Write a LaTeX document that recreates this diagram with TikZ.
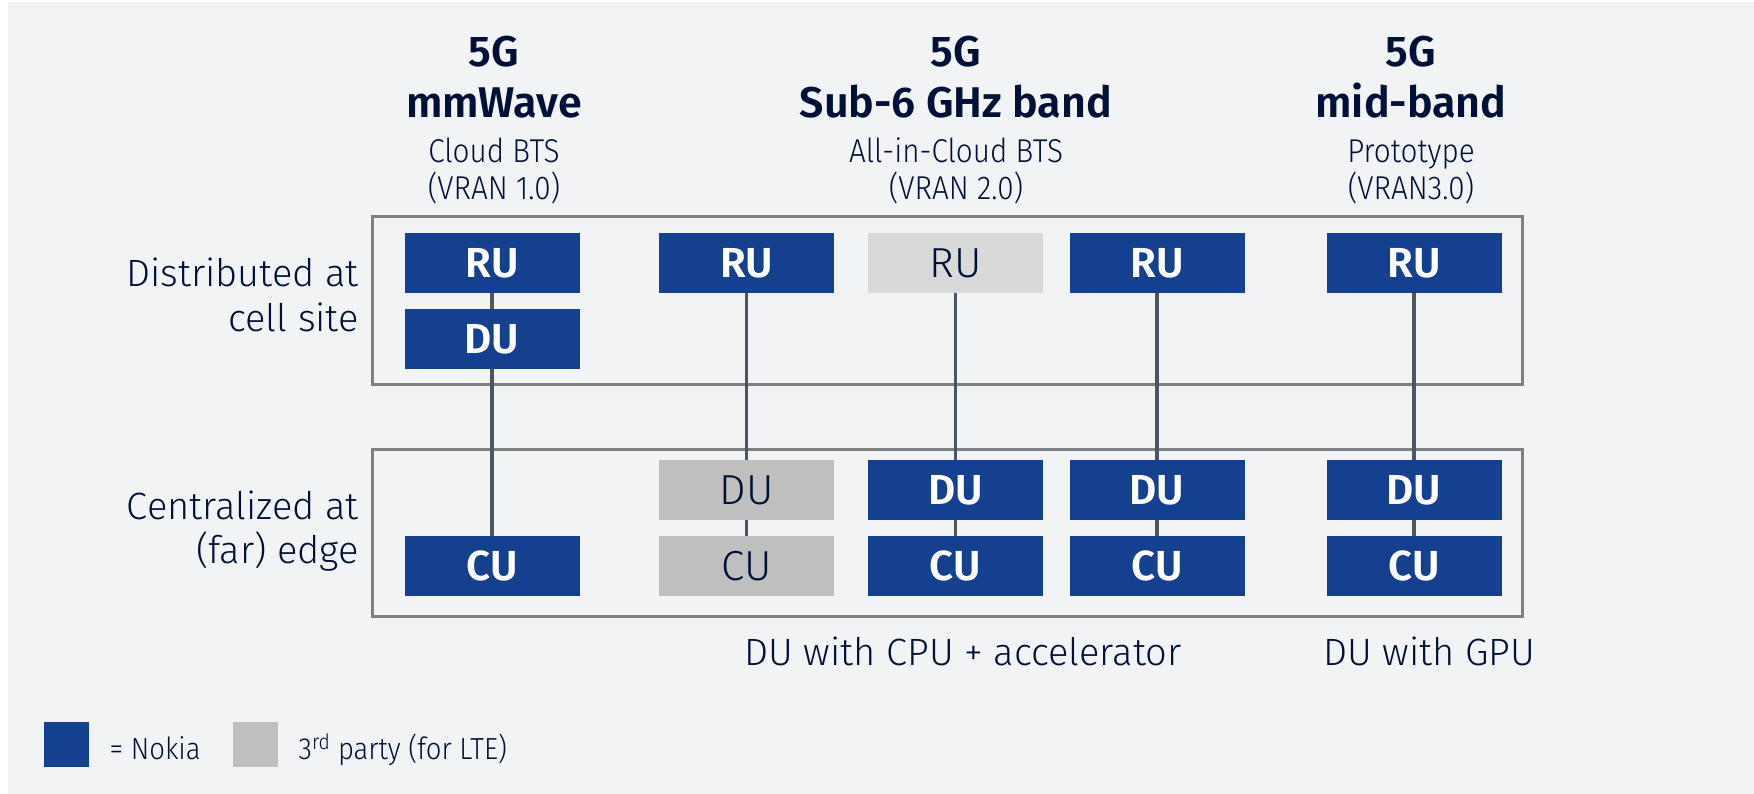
\documentclass[tikz,border=0pt]{standalone}
\usepackage{fontspec}
\setmainfont{Fira Sans}[UprightFont=* Light, BoldFont=* SemiBold]
\newfontfamily\narrowfont{Fira Sans}[UprightFont=* Light, FakeStretch=0.9]
\definecolor{bg}{HTML}{F2F3F5}
\definecolor{nblue}{HTML}{14408F}
\definecolor{gdark}{HTML}{BFBFBF}
\definecolor{glight}{HTML}{D9D9D9}
\definecolor{ink}{HTML}{001135}
\definecolor{framec}{HTML}{808080}
\definecolor{wire}{HTML}{4D5563}
\tikzset{
  unit/.style={minimum width=175pt, minimum height=60pt, inner sep=0pt},
  nk/.style={unit, fill=nblue, text=white, font=\fontsize{42}{42}\selectfont\bfseries},
  tp/.style={unit, fill=gdark, text=ink, font=\fontsize{42}{42}\selectfont},
  tpl/.style={tp, fill=glight},
  hdb/.style={anchor=base, inner sep=0pt, text=ink, font=\fontsize{43}{43}\selectfont\bfseries},
  hdr/.style={anchor=base, inner sep=0pt, text=ink, font=\narrowfont\fontsize{33}{33}\selectfont},
  side/.style={anchor=base east, inner sep=0pt, text=ink, font=\fontsize{38}{38}\selectfont},
  note/.style={anchor=base, inner sep=0pt, text=ink, font=\fontsize{38}{38}\selectfont},
  leg/.style={anchor=base west, inner sep=0pt, text=ink, font=\narrowfont\fontsize{30.5}{30.5}\selectfont},
  legbox/.style={minimum width=45pt, minimum height=45pt, inner sep=0pt},
  frm/.style={draw=framec, line width=3pt},
  wr/.style={draw=wire, line width=3.5pt},
}
\begin{document}
\begin{tikzpicture}[x=1pt, y=-1pt]
\useasboundingbox (0,0) rectangle (1754,794);
\fill[white] (0,0) rectangle (1754,794);
\fill[bg] (8,2) rectangle (1754,794);
% frames
\draw[frm] (372.5,217) rectangle (1522,384);
\draw[frm] (372.5,449) rectangle (1522,616);
% headers
\node[hdb] (h1a) at (494,67) {5G};
\node[hdb] (h1b) at (494,118) {mmWave};
\node[hdr] (h1c) at (494,163) {Cloud BTS};
\node[hdr] (h1d) at (494,200) {(VRAN 1.0)};
\node[hdb] (h2a) at (956,67) {5G};
\node[hdb] (h2b) at (956,118) {Sub-6 GHz band};
\node[hdr] (h2c) at (956,163) {All-in-Cloud BTS};
\node[hdr] (h2d) at (956,200) {(VRAN 2.0)};
\node[hdb] (h3a) at (1411,67) {5G};
\node[hdb] (h3b) at (1411,118) {mid-band};
\node[hdr] (h3c) at (1411,163) {Prototype};
\node[hdr] (h3d) at (1411,200) {(VRAN3.0)};
% side labels
\node[side] (s1) at (359,287) {Distributed at};
\node[side] (s2) at (359,332) {cell site};
\node[side] (s3) at (359,519) {Centralized at};
\node[side] (s4) at (359,563) {(far) edge};
% boxes
\node[nk] (ru1) at (492,263) {RU};
\node[nk] (du1) at (492,339) {DU};
\node[nk] (cu1) at (492,566) {CU};
\node[nk] (ru2) at (746.5,263) {RU};
\node[tp] (du2) at (746.5,490) {DU};
\node[tp] (cu2) at (746.5,566) {CU};
\node[tpl] (ru3) at (955.5,263) {RU};
\node[nk] (du3) at (955.5,490) {DU};
\node[nk] (cu3) at (955.5,566) {CU};
\node[nk] (ru4) at (1157,263) {RU};
\node[nk] (du4) at (1157,490) {DU};
\node[nk] (cu4) at (1157,566) {CU};
\node[nk] (ru5) at (1414,263) {RU};
\node[nk] (du5) at (1414,490) {DU};
\node[nk] (cu5) at (1414,566) {CU};
% connectors
\draw[wr] (ru1) -- (du1);
\draw[wr] (du1) -- (cu1);
\draw[wr] (ru2) -- (du2);
\draw[wr] (du2) -- (cu2);
\draw[wr] (ru3) -- (du3);
\draw[wr] (du3) -- (cu3);
\draw[wr] (ru4) -- (du4);
\draw[wr] (du4) -- (cu4);
\draw[wr] (ru5) -- (du5);
\draw[wr] (du5) -- (cu5);
% notes
\node[note] (n1) at (963,665) {DU with CPU + accelerator};
\node[note] (n2) at (1429,665) {DU with GPU};
% legend
\node[legbox, fill=nblue] (lg1) at (66,744.5) {};
\node[leg] (lt1) at (109.5,759) {= Nokia};
\node[legbox, fill=gdark] (lg2) at (255,744.5) {};
\node[leg] (lt2) at (298.5,759) {3\textsuperscript{rd} party (for LTE)};
\end{tikzpicture}
\end{document}
